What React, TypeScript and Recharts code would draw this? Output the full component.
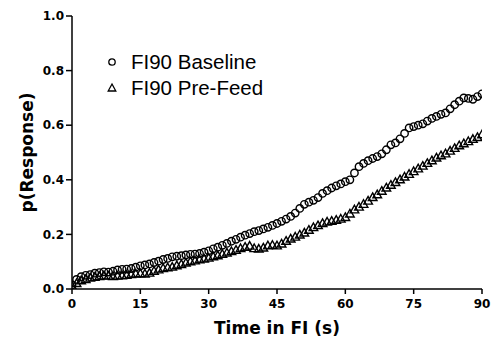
import React from "react";
import { ScatterChart, Scatter, XAxis, YAxis, Label } from "recharts";

// time in FI (s)
const times = [
  0, 1, 2, 3, 4, 5, 6, 7, 8, 9, 10, 11, 12, 13, 14, 15, 16, 17, 18, 19, 20,
  21, 22, 23, 24, 25, 26, 27, 28, 29, 30, 31, 32, 33, 34, 35, 36, 37, 38, 39, 40,
  41, 42, 43, 44, 45, 46, 47, 48, 49, 50, 51, 52, 53, 54, 55, 56, 57, 58, 59, 60,
  61, 62, 63, 64, 65, 66, 67, 68, 69, 70, 71, 72, 73, 74, 75, 76, 77, 78, 79, 80,
  81, 82, 83, 84, 85, 86, 87, 88, 89, 90,
];

const baseline = [
  0.015, 0.035, 0.045, 0.05, 0.053, 0.058, 0.06, 0.063, 0.062, 0.065, 0.07,
  0.072, 0.073, 0.075, 0.08, 0.085, 0.088, 0.092, 0.097, 0.102, 0.108,
  0.112, 0.118, 0.12, 0.122, 0.125, 0.127, 0.128, 0.13, 0.135, 0.14,
  0.147, 0.153, 0.16, 0.167, 0.175, 0.182, 0.19, 0.197, 0.203, 0.21,
  0.214, 0.22, 0.226, 0.233, 0.24, 0.248, 0.256, 0.266, 0.278, 0.295,
  0.31, 0.318, 0.325, 0.335, 0.35, 0.36, 0.37, 0.378, 0.385, 0.393,
  0.4, 0.425, 0.448, 0.46, 0.47, 0.478, 0.485, 0.495, 0.51, 0.528,
  0.535, 0.55, 0.57, 0.59, 0.595, 0.6, 0.605, 0.615, 0.625, 0.632,
  0.64, 0.645, 0.66, 0.675, 0.688, 0.7, 0.698, 0.695, 0.705, 0.715,
];

const preFeed = [
  0.01, 0.02, 0.03, 0.035, 0.04, 0.043, 0.046, 0.048, 0.047, 0.046, 0.047,
  0.048, 0.05, 0.053, 0.055, 0.056, 0.055, 0.058, 0.065, 0.07, 0.075,
  0.078, 0.08, 0.085, 0.09, 0.095, 0.1, 0.103, 0.107, 0.11, 0.113,
  0.118, 0.122, 0.127, 0.132, 0.137, 0.142, 0.148, 0.153, 0.157, 0.148,
  0.146, 0.15, 0.158, 0.16, 0.158, 0.165, 0.175, 0.183, 0.19, 0.198,
  0.205, 0.215, 0.225, 0.232, 0.24, 0.245, 0.248, 0.252, 0.256, 0.262,
  0.275, 0.29, 0.3, 0.31, 0.322, 0.335, 0.345, 0.358, 0.37, 0.38,
  0.39, 0.4, 0.41, 0.42, 0.43, 0.44, 0.45, 0.46, 0.47, 0.48,
  0.488, 0.495, 0.505, 0.515, 0.525, 0.532, 0.54, 0.548, 0.555, 0.565,
];

const xTicks = [0, 15, 30, 45, 60, 75, 90];
const yTicks = [0, 0.2, 0.4, 0.6, 0.8, 1.0];

const legendItems = [
  { name: "FI90 Baseline", kind: "circle" },
  { name: "FI90 Pre-Feed", kind: "triangle" },
];

const baselineData = times.map((t, i) => ({ t, v: baseline[i] }));
const preFeedData = times.map((t, i) => ({ t, v: preFeed[i] }));

const axisFont = "'DejaVu Sans', sans-serif";

const CircleMark = (props: any) => (
  <circle cx={props.cx} cy={props.cy} r={3.7} fill="none" stroke="#000" strokeWidth={1.4} />
);

const TriangleMark = (props: any) => {
  const { cx, cy } = props;
  return (
    <path
      d={`M${cx},${cy - 4.6}L${cx + 4.3},${cy + 3}L${cx - 4.3},${cy + 3}Z`}
      fill="none"
      stroke="#000"
      strokeWidth={1.4}
    />
  );
};

export default function App() {
  return (
    <div style={{ position: "absolute", left: 0, top: 0, width: 492, height: 347, background: "#fff" }}>
      <ScatterChart width={492} height={347} margin={{ top: 16, right: 10, left: 0, bottom: 0 }}>
        <XAxis
          type="number"
          dataKey="t"
          domain={[0, 90]}
          ticks={xTicks}
          allowDataOverflow
          height={58}
          axisLine={{ stroke: "#000", strokeWidth: 1.5 }}
          tickLine={{ stroke: "#000", strokeWidth: 1.5 }}
          tickSize={5}
          tickMargin={5}
          tick={{ fill: "#000", fontSize: 12, fontWeight: "bold", fontFamily: axisFont }}
        >
          <Label
            value="Time in FI (s)"
            position="insideBottom"
            offset={13}
            style={{ fill: "#000", fontSize: 17, fontWeight: "bold", fontFamily: axisFont }}
          />
        </XAxis>
        <YAxis
          type="number"
          dataKey="v"
          domain={[0, 1]}
          ticks={yTicks}
          allowDataOverflow
          width={72}
          axisLine={{ stroke: "#000", strokeWidth: 1.5 }}
          tickLine={{ stroke: "#000", strokeWidth: 1.5 }}
          tickSize={6}
          tickMargin={2}
          tickFormatter={(v: number) => v.toFixed(1)}
          tick={{ fill: "#000", fontSize: 12, fontWeight: "bold", fontFamily: axisFont }}
        >
          <Label
            value="p(Response)"
            angle={-90}
            position="insideLeft"
            offset={27}
            style={{ textAnchor: "middle", fill: "#000", fontSize: 17, fontWeight: "bold", fontFamily: axisFont }}
          />
        </YAxis>
        <Scatter name="FI90 Baseline" data={baselineData} shape={CircleMark} isAnimationActive={false} />
        <Scatter name="FI90 Pre-Feed" data={preFeedData} shape={TriangleMark} isAnimationActive={false} />
      </ScatterChart>
      {/* legend overlay inside the plot, top-left */}
      <div
        style={{
          position: "absolute",
          left: 105,
          top: 49,
          fontFamily: "'Liberation Sans', Arial, sans-serif",
          fontSize: 20.5,
          color: "#000",
        }}
      >
        {legendItems.map((item) => (
          <div key={item.name} style={{ display: "flex", alignItems: "center", height: 26 }}>
            <svg width={14} height={14} style={{ marginRight: 12 }}>
              {item.kind === "circle" ? (
                <circle cx={7} cy={7} r={3.2} fill="none" stroke="#000" strokeWidth={1.3} />
              ) : (
                <path d="M7,3L10.8,10L3.2,10Z" fill="none" stroke="#000" strokeWidth={1.3} />
              )}
            </svg>
            <span>{item.name}</span>
          </div>
        ))}
      </div>
    </div>
  );
}
